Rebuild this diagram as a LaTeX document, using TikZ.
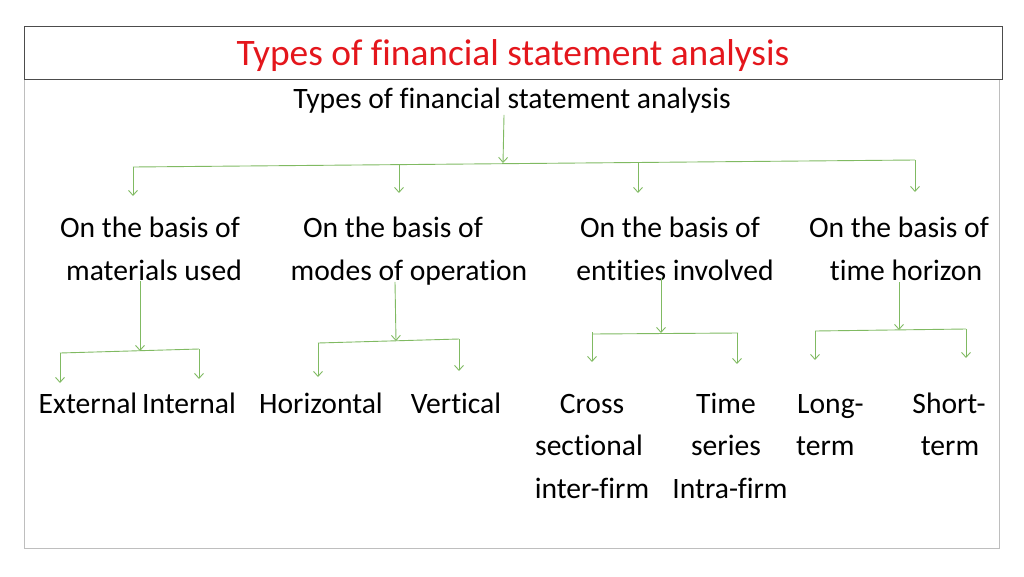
\documentclass[tikz,border=0pt]{standalone}
\usepackage{fontspec}
\setmainfont{Carlito}[Ligatures={NoCommon,NoContextual}]
\usepackage{tikz}
\usetikzlibrary{arrows.meta}
\definecolor{lnggreen}{RGB}{128,186,98}
\definecolor{ttlred}{RGB}{228,22,28}
\definecolor{boxgray}{RGB}{190,190,190}

\begin{document}
\begin{tikzpicture}[x=1pt,y=-1pt,
   lbl/.style={font=\fontsize{29.6}{42.7}\selectfont,inner sep=0pt,anchor=base},
   ln/.style={draw=lnggreen,line width=0.9pt},
   arr/.style={ln,-{Straight Barb[length=5pt,width=9pt]}}]
\useasboundingbox (0,0) rectangle (1024,576);
\draw[boxgray,line width=1pt] (24,79) rectangle (999,548);
\node[draw=black!70,line width=1pt,minimum width=978pt,minimum height=53pt,inner sep=0pt,text depth=0pt,
   font=\fontsize{37.4}{40}\selectfont,text=ttlred] (title) at (513,52.5) {Types of financial statement analysis};
\node[lbl] (root) at (512,108) {Types of financial statement analysis};
% first level
\foreach \n/\x in %
{mat/150,mod/393,ent/670,hor/899} {
   \node[lbl] (\n) at (\x,237) {On the basis of};
}
\node[lbl] (mat-b) at (154,280) {materials used};
\node[lbl] (mod-b) at (409,280) {modes of operation};
\node[lbl] (ent-b) at (675,280) {entities involved};
\node[lbl] (hor-b) at (906,280) {time horizon};
% second level
\node[lbl] (ext) at (88,413) {External};
\node[lbl] (int) at (189,413) {Internal};
\node[lbl] (horz) at (321,413) {Horizontal};
\node[lbl] (vert) at (456,413) {Vertical};
\node[lbl] (cross) at (592,413) {Cross};
\node[lbl] (cross-b) at (589,455) {sectional};
\node[lbl] (cross-c) at (592,498) {inter-firm};
\node[lbl] (time) at (726,413) {Time};
\node[lbl] (time-b) at (726,455) {series};
\node[lbl] (time-c) at (730,498) {Intra-firm};
\node[lbl,anchor=base west] (long) at (797,413) {Long-};
\node[lbl,anchor=base west] (long-b) at (796,455) {term};
\node[lbl] (short) at (949,413) {Short-};
\node[lbl] (short-b) at (950,455) {term};
% connectors
\coordinate (top-j) at (503,163);
\draw[arr] ([xshift=-8pt,yshift=-2pt]root.south) -- (top-j);
\draw[ln] (133,167) -- (915,160);
\foreach \x/\y/\e in %
{133/167/196,399/164.6/193,638/162.5/193,915/160/192} {
   \draw[arr] (\x,\y) -- (\x,\e);
}
\draw[arr] ([xshift=-14pt,yshift=-1pt]mat-b.south) -- (140,351);
\draw[ln] (60,353) -- (199,349);
\draw[arr] (60,353) -- (60,383);
\draw[arr] (199,349) -- (199,379);
\draw[arr] ([xshift=-14pt,yshift=3pt]mod-b.south) -- (396,341);
\draw[ln] (318,343) -- (459,339);
\draw[arr] (318,343) -- (318,377);
\draw[arr] (459,339) -- (459,371);
\draw[arr] ([xshift=-14pt,yshift=2pt]ent-b.south) -- (661,333);
\draw[ln] (592,334) -- (738,333);
\draw[arr] (592,332) -- (592,362);
\draw[arr] (737,333) -- (737,364);
\draw[arr] ([xshift=-7pt,yshift=-2pt]hor-b.south) -- (899,330);
\draw[ln] (815,331) -- (966,329);
\draw[arr] (815,331) -- (815,360);
\draw[arr] (966,329) -- (966,358);
\end{tikzpicture}
\end{document}
